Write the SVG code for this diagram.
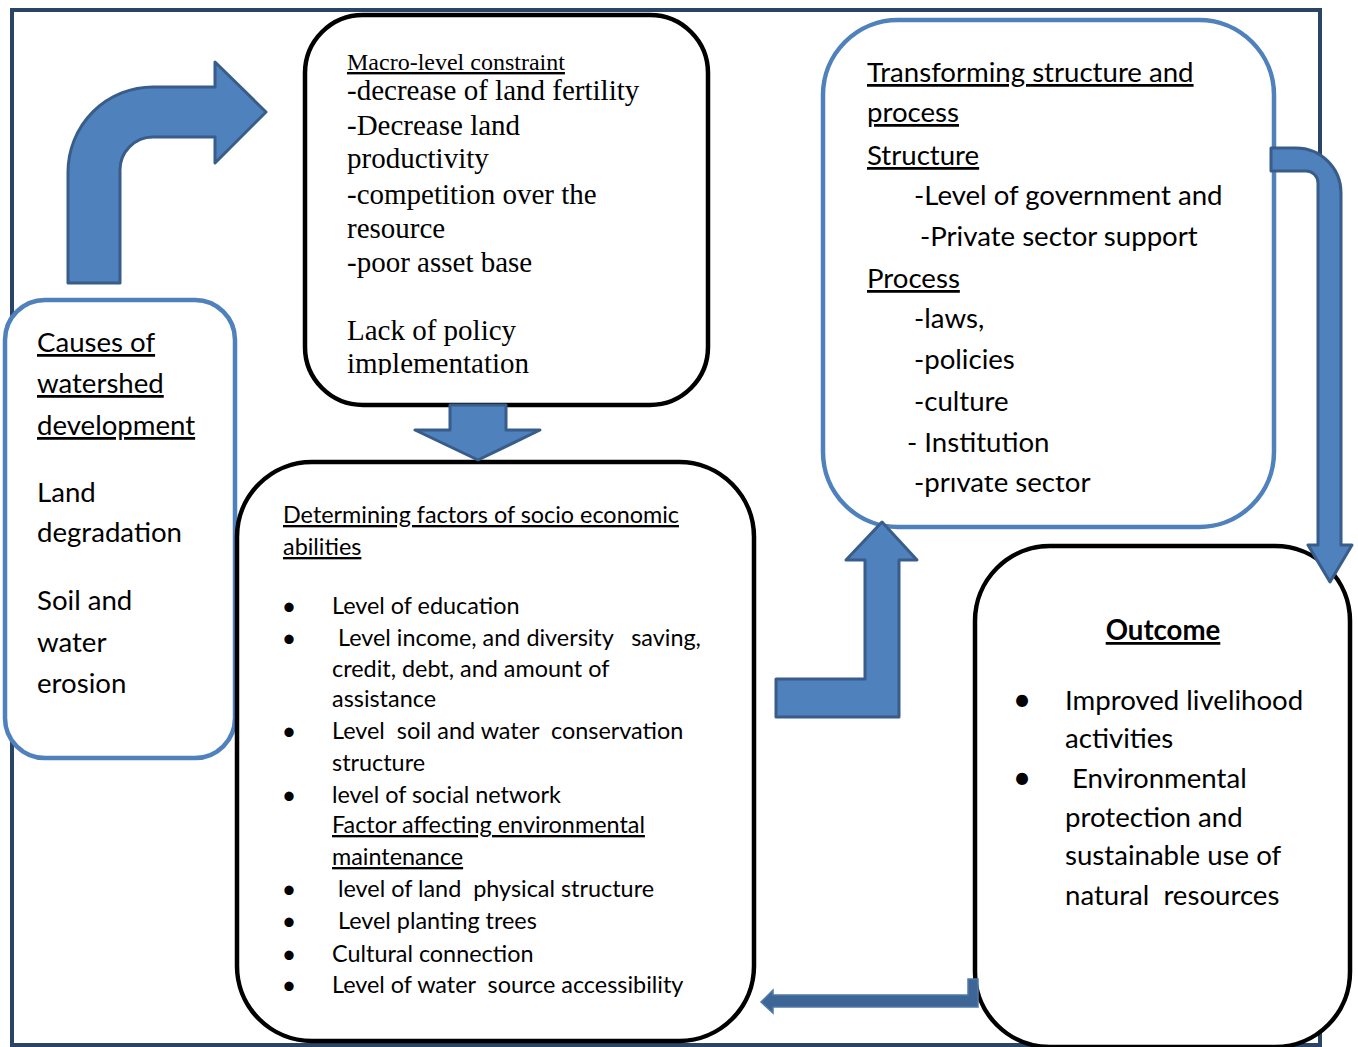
<svg xmlns="http://www.w3.org/2000/svg" width="1358" height="1047" viewBox="0 0 1358 1047">
<defs>
<style>
text{white-space:pre}
.frame{fill:none;stroke:#2A4466;stroke-width:4}
.bbox{fill:#fff;stroke:#4F81BD;stroke-width:4.5}
.kbox{fill:#fff;stroke:#000;stroke-width:4.5}
.arrow{fill:#4F81BD;stroke:#385D8A;stroke-width:3;stroke-linejoin:round}
.arrow2{fill:#3D6596;stroke:#5079AB;stroke-width:1.5}
.sans{font-family:Lato,"Liberation Sans",sans-serif;font-size:27.6px;fill:#000}
.sm{font-size:23.4px}
.serif{font-family:"Liberation Serif",serif;font-size:29px;fill:#000}
.ser24{font-size:24px}
.u{text-decoration:underline}
.b{font-weight:bold}
.bul{font-family:Lato,"Liberation Sans",sans-serif;font-size:25px;text-anchor:middle}
.bul2{font-family:Lato,"Liberation Sans",sans-serif;font-size:32px;text-anchor:middle}
</style>
<clipPath id="clipMacro"><rect x="305" y="15" width="403" height="360"/></clipPath>
<clipPath id="clipTrans"><rect x="823" y="476" width="451" height="60"/></clipPath>
</defs>
<rect class="frame" x="12" y="10" width="1308" height="1035"/>

<g id="causes">
<rect class="bbox" x="5" y="300" width="230" height="458" rx="40"/>
<text class="sans u" x="37" y="352">Causes of</text>
<text class="sans u" x="37" y="393">watershed</text>
<text class="sans u" x="37" y="435">development</text>
<text class="sans" x="37" y="502">Land</text>
<text class="sans" x="37" y="542">degradation</text>
<text class="sans" x="37" y="610">Soil and</text>
<text class="sans" x="37" y="652">water</text>
<text class="sans" x="37" y="693">erosion</text>
</g>

<g id="macro">
<rect class="kbox" x="305" y="15" width="403" height="390" rx="58"/>
<g clip-path="url(#clipMacro)">
<text class="serif ser24 u" x="347" y="70">Macro-level constraint</text>
<text class="serif" x="347" y="100">-decrease of land fertility</text>
<text class="serif" x="347" y="135">-Decrease land</text>
<text class="serif" x="347" y="168">productivity</text>
<text class="serif" x="347" y="204">-competition over the</text>
<text class="serif" x="347" y="238">resource</text>
<text class="serif" x="347" y="272">-poor asset base</text>
<text class="serif" x="347" y="340">Lack of policy</text>
<text class="serif" x="347" y="373">implementation</text>
</g>
</g>

<g id="transforming">
<rect class="bbox" x="823" y="20" width="451" height="507" rx="75"/>
<text class="sans u" x="867" y="82">Transforming structure and</text>
<text class="sans u" x="867" y="122">process</text>
<text class="sans u" x="867" y="165">Structure</text>
<text class="sans" x="914" y="205">-Level of government and</text>
<text class="sans" x="920" y="246">-Private sector support</text>
<text class="sans u" x="867" y="288">Process</text>
<text class="sans" x="914" y="328">-laws,</text>
<text class="sans" x="914" y="369">-policies</text>
<text class="sans" x="914" y="411">-culture</text>
<text class="sans" x="907" y="452">- Institution</text>
<g clip-path="url(#clipTrans)"><text class="sans" x="914" y="492">-private sector</text></g>
</g>

<g id="determining">
<rect class="kbox" x="237" y="462" width="517" height="579" rx="75"/>
<text class="sans sm u" x="283" y="523">Determining factors of socio economic</text>
<text class="sans sm u" x="283" y="555">abilities</text>
<text class="bul" x="289" y="615">•</text>
<text class="sans sm" x="332" y="614">Level of education</text>
<text class="bul" x="289" y="647">•</text>
<text class="sans sm" x="332" y="646"> Level income, and diversity   saving,</text>
<text class="sans sm" x="332" y="677">credit, debt, and amount of</text>
<text class="sans sm" x="332" y="707">assistance</text>
<text class="bul" x="289" y="740">•</text>
<text class="sans sm" x="332" y="739">Level  soil and water  conservation</text>
<text class="sans sm" x="332" y="771">structure</text>
<text class="bul" x="289" y="804">•</text>
<text class="sans sm" x="332" y="803">level of social network</text>
<text class="sans sm u" x="332" y="833">Factor affecting environmental</text>
<text class="sans sm u" x="332" y="865">maintenance</text>
<text class="bul" x="289" y="898">•</text>
<text class="sans sm" x="332" y="897"> level of land  physical structure</text>
<text class="bul" x="289" y="930">•</text>
<text class="sans sm" x="332" y="929"> Level planting trees</text>
<text class="bul" x="289" y="963">•</text>
<text class="sans sm" x="332" y="962">Cultural connection</text>
<text class="bul" x="289" y="994">•</text>
<text class="sans sm" x="332" y="993">Level of water  source accessibility</text>
</g>

<g id="outcome">
<rect class="kbox" x="975" y="546" width="375" height="501" rx="75"/>
<text class="sans b u" x="1163" y="640" text-anchor="middle">Outcome</text>
<text class="bul2" x="1022" y="711">•</text>
<text class="sans" x="1065" y="710">Improved livelihood</text>
<text class="sans" x="1065" y="748">activities</text>
<text class="bul2" x="1022" y="789">•</text>
<text class="sans" x="1065" y="788"> Environmental</text>
<text class="sans" x="1065" y="827">protection and</text>
<text class="sans" x="1065" y="865">sustainable use of</text>
<text class="sans" x="1065" y="905">natural  resources</text>
</g>

<g id="connectors">
<path class="arrow" d="M68,283 V172 A85,85 0 0 1 153,87 H215 V62 L266,112 L215,163 V137 H153 A33,33 0 0 0 120,170 V283 Z"/>
<path class="arrow" d="M450,405 H506 V430 H540 L478,460 L415,430 H450 Z"/>
<path class="arrow" d="M776,679 H865 V560 H846 L882,522 L917,560 H899 V717 H776 Z"/>
<path class="arrow" d="M1271,148 H1296 A45,45 0 0 1 1341,193 V545 H1352 L1330,582 L1308,545 H1318 V183 A12,12 0 0 0 1306,171 H1271 Z"/>
<path class="arrow2" d="M968,979 H978 V1007 H773 V1013 L761,1002 L773,990 V995 H968 Z"/>
</g>
</svg>
